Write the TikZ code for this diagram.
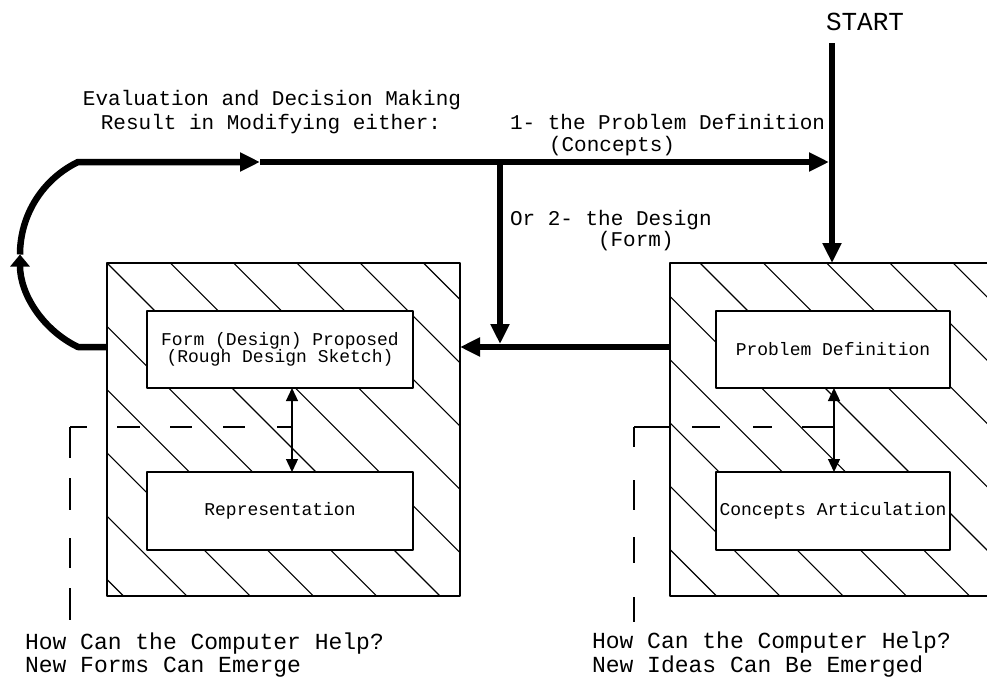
\documentclass[tikz,border=0pt]{standalone}
\usepackage{fontspec}
\newfontfamily\cadfont{Liberation Mono}
\usetikzlibrary{arrows.meta}

\begin{document}
\begin{tikzpicture}[x=1pt,y=-1pt,line join=round,
  every node/.style={inner sep=0pt,outer sep=0pt},
  frame/.style={draw,line width=1.3pt,minimum height=333pt},
  stage/.style={draw,line width=1.3pt,fill=white,minimum height=77pt,align=center,
    font=\cadfont\fontsize{18}{17}\selectfont},
  hatch/.style={line width=1.1pt},
  flow/.style={line width=6.5pt},
  bigtip/.style={-{Triangle[length=20pt,width=18pt]}},
  looptip/.style={-{Triangle[length=12pt,width=19pt]}},
  linkarrow/.style={line width=1.3pt,{Triangle[length=13pt,width=12pt]}-{Triangle[length=13pt,width=12pt]}},
  guide/.style={line width=1.2pt},
  toplabel/.style={font=\cadfont\fontsize{21}{24}\selectfont},
  helplabel/.style={font=\cadfont\fontsize{23}{24}\selectfont}]

\useasboundingbox (0,0) rectangle (987,680);
\clip (0,0) rectangle (987,680);

% hatched frames
\node[frame,minimum width=353pt] (LF) at (283.5,429.5) {};
\node[frame,minimum width=350pt] (RF) at (845,429.5) {};
\begin{scope}
  \clip (LF.north west) rectangle (LF.south east);
  \foreach \k in {-6,...,6}
    \draw[hatch] ({-156+63.3*\k+200},200) -- ({-156+63.3*\k+700},700);
\end{scope}
\begin{scope}
  \clip (RF.north west) rectangle (RF.south east);
  \foreach \k in {-7,...,6}
    \draw[hatch] ({437+63.3*\k+200},200) -- ({437+63.3*\k+700},700);
\end{scope}

% stages inside the frames
\node[stage,minimum width=266pt] (FP) at (280,349.5) {Form (Design) Proposed\\(Rough Design Sketch)};
\node[stage,minimum width=266pt,minimum height=78pt] (RP) at (280,511) {Representation};
\node[stage,minimum width=234pt] (PD) at (833,349.5) {Problem Definition};
\node[stage,minimum width=234pt,minimum height=78pt] (CA) at (833,511) {Concepts Articulation};

% junctions of the links and guides
\coordinate (LJ) at (292,427);
\coordinate (RJ) at (834,427);
\coordinate (LC) at (70,427);
\coordinate (LD) at (70,620);
\coordinate (RC) at (634,427);
\coordinate (RD) at (634,622);

\draw[linkarrow] (LJ |- FP.south) -- (LJ |- RP.north);
\draw[linkarrow] (RJ |- PD.south) -- (RJ |- CA.north);

% dashed guides to the captions
\draw[guide,dash pattern=on 17pt off 30pt on 23pt off 30pt on 22pt off 31pt on 22pt off 32pt on 15pt] (LC) -- (LJ);
\draw[guide,dash pattern=on 31pt off 20pt on 32pt off 28pt on 30pt off 20pt on 32pt] (LC) -- (LD);
\draw[guide,dash pattern=on 36pt off 22pt on 28pt off 33pt on 19pt off 30pt on 32pt] (RC) -- (RJ);
\draw[guide,dash pattern=on 20pt off 33pt on 30pt off 27pt on 26pt off 34pt on 25pt] (RC) -- (RD);

% main flow
\coordinate (start) at (832,43);
\coordinate (mid) at (0,347);
\coordinate (loopB) at (78,347);
\coordinate (loopL) at (20,254.5);
\coordinate (loopT) at (78,162);
\coordinate (midT) at (260,162);
\coordinate (branch) at (500,162);
\coordinate (topR) at (start |- loopT);

\draw[flow,bigtip] (start) -- (start |- RF.north);
\draw[flow,bigtip] (RF.west |- mid) -- (LF.east |- mid);
\draw[flow,bigtip,shorten >=3pt] (branch) -- (branch |- mid);
\draw[flow,looptip] (LF.west |- mid) -- (loopB)
  .. controls (42.5,329.8) and (20,293.9) .. (loopL);
\draw[flow,bigtip] (loopL) .. controls (20,215.1) and (42.5,179.2) .. (loopT) -- (midT);
\draw[flow,bigtip,shorten >=3pt] (midT) -- (topR);

% labels
\node[anchor=base,font=\cadfont\fontsize{26}{28}\selectfont] (startlabel) at (865,30) {START};
\node[toplabel,anchor=base] (eval1) at (272,105) {Evaluation and Decision Making};
\node[toplabel,anchor=base] (eval2) at (271,129) {Result in Modifying either:};
\node[toplabel,anchor=base west] (opt1) at (510,129) {1- the Problem Definition};
\node[toplabel,anchor=base west] (opt1b) at (549,151) {(Concepts)};
\node[toplabel,anchor=base west] (opt2) at (510,225) {Or 2- the Design};
\node[toplabel,anchor=base west] (opt2b) at (598,246) {(Form)};

\node[helplabel,anchor=base west] (helpL1) at (25,649) {How Can the Computer Help?};
\node[helplabel,anchor=base west] (helpL2) at (25,672) {New Forms Can Emerge};
\node[helplabel,anchor=base west] (helpR1) at (592,648) {How Can the Computer Help?};
\node[helplabel,anchor=base west] (helpR2) at (592,672) {New Ideas Can Be Emerged};
\end{tikzpicture}
\end{document}
